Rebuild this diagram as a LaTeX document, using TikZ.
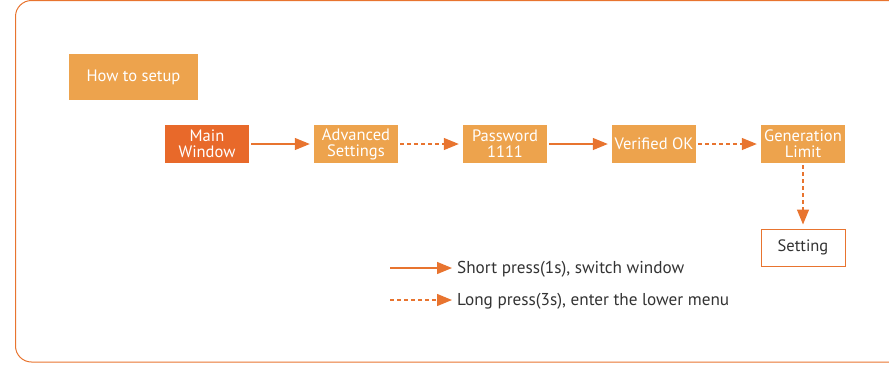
\documentclass[tikz,border=0pt]{standalone}
\usepackage{fontspec}
\setmainfont{PT Sans}
\usetikzlibrary{arrows.meta}
\definecolor{dkor}{HTML}{E8692A}
\definecolor{ltor}{HTML}{EDA34D}
\definecolor{bdor}{HTML}{E8742F}
\definecolor{txt}{HTML}{333333}
\tikzset{
  box/.style={minimum width=84pt, minimum height=38pt, inner sep=0pt, align=center,
    text=white, font=\fontsize{16.5}{16}\selectfont},
  arr/.style={draw=bdor, line width=1.3pt, -{Triangle[length=15pt,width=12pt]}},
  darr/.style={arr, dash pattern=on 4pt off 3pt},
  legtxt/.style={anchor=west, inner sep=0pt, text=txt, font=\fontsize{17.2}{17}\selectfont},
}
\begin{document}
\begin{tikzpicture}[x=1pt,y=-1pt]
\useasboundingbox (0,0) rectangle (889,368);
\begin{scope}
\clip (0,0) rectangle (889,368);
\draw[bdor, line width=1pt, rounded corners=16pt] (15.5,0.5) rectangle (905,362);
\end{scope}
\node[box, fill=ltor, minimum width=129pt, minimum height=46pt] (setup) at (133.5,77) {How to setup};
\node[box, fill=dkor] (main) at (207,144) {Main\\Window};
\node[box, fill=ltor] (adv) at (356,144) {Advanced\\Settings};
\node[box, fill=ltor] (pwd) at (505,144) {Password\\1111};
\node[box, fill=ltor] (ver) at (654,144) {Verified OK};
\node[box, fill=ltor] (gen) at (803,144) {Generation\\Limit};
\node[box, fill=white, draw=bdor, line width=1pt, text=txt, minimum height=37pt] (set) at (803,247.5) {Setting};
\draw[arr] ([xshift=2pt]main.east) -- ([xshift=-4pt]adv.west);
\draw[darr] ([xshift=2pt]adv.east) -- ([xshift=-4pt]pwd.west);
\draw[arr] ([xshift=2pt]pwd.east) -- ([xshift=-4pt]ver.west);
\draw[darr] ([xshift=2pt]ver.east) -- ([xshift=-4pt]gen.west);
\draw[darr] ([yshift=-2pt]gen.south) -- ([yshift=4pt]set.north);
\coordinate (l1s) at (390,268);
\coordinate (l1e) at (452,268);
\coordinate (l2s) at (390,300);
\coordinate (l2e) at (452,300);
\draw[arr] (l1s) -- (l1e);
\draw[darr] (l2s) -- (l2e);
\node[legtxt] (t1) at (457,269) {Short press(1s), switch window};
\node[legtxt] (t2) at (457,301) {Long press(3s), enter the lower menu};
\end{tikzpicture}
\end{document}
